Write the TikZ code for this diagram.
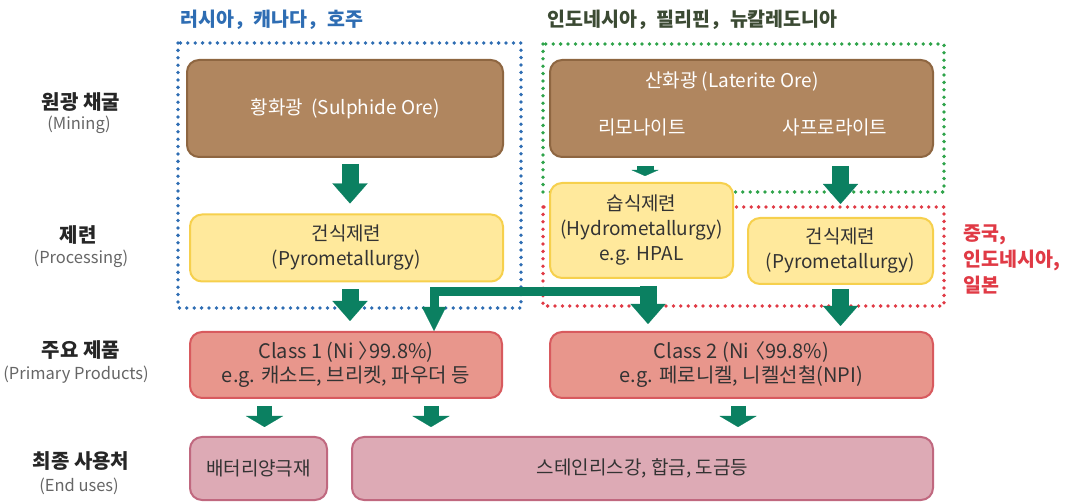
\documentclass[tikz,border=0pt]{standalone}
\usepackage{fontspec}
\setmainfont{Noto Sans CJK KR}
\usetikzlibrary{arrows.meta}

\definecolor{orebrown}{HTML}{B0865F}
\definecolor{oreline}{HTML}{8E6641}
\definecolor{procyellow}{HTML}{FFE99C}
\definecolor{procline}{HTML}{F6D04D}
\definecolor{prodsalmon}{HTML}{E8968C}
\definecolor{prodline}{HTML}{D85A5E}
\definecolor{usepink}{HTML}{DDAAB5}
\definecolor{useline}{HTML}{C0687F}
\definecolor{flowgreen}{HTML}{0B8061}
\definecolor{rublue}{HTML}{2E6DB3}
\definecolor{idgreen}{HTML}{2EA34A}
\definecolor{cnred}{HTML}{E03A45}
\definecolor{idtitle}{HTML}{3B4A33}

\newcommand\boxfont{\fontsize{19}{25}\selectfont}
\newcommand\prodfont{\fontsize{20}{24}\selectfont}
\newcommand\headfont{\bfseries\fontsize{19.5}{26}\selectfont}
\newcommand\namefont{\bfseries\fontsize{20}{24}\selectfont}
\newcommand\notefont{\fontsize{16.5}{20}\selectfont}

\tikzset{
  stage/.style={rounded corners=12pt, line width=2pt, align=center, inner sep=0pt, font=\boxfont, text=black!80},
  ore/.style={stage, fill=orebrown, draw=oreline, text=white},
  proc/.style={stage, fill=procyellow, draw=procline},
  prod/.style={stage, fill=prodsalmon, draw=prodline, font=\prodfont},
  enduse/.style={stage, fill=usepink, draw=useline},
  oretext/.style={font=\boxfont, text=white, inner sep=0pt},
  stagename/.style={font=\namefont, text=black!85},
  stagenote/.style={font=\notefont, text=black!60},
  region/.style={line width=3.8pt, dash pattern=on 0pt off 7.4pt, line cap=round},
  bigflow/.style={draw=flowgreen, line width=17pt, -{Triangle[width=35pt,length=20pt,line width=0.1pt,fill=flowgreen]}},
  smallflow/.style={draw=flowgreen, line width=15pt, -{Triangle[width=37pt,length=11pt,line width=0.1pt,fill=flowgreen]}},
  tinyflow/.style={draw=flowgreen, line width=17pt, -{Triangle[width=27pt,length=6pt,line width=0.1pt,fill=flowgreen]}},
  elbowflow/.style={draw=flowgreen, line width=9pt, line join=miter, -{Triangle[width=24pt,length=24pt,line width=0.1pt,fill=flowgreen]}}
}

\begin{document}
\begin{tikzpicture}[x=1pt,y=-1pt]
\useasboundingbox (0,0) rectangle (1066,502);

\draw[region, rublue] (178,43) rectangle (521,308);
\draw[region, idgreen] (543,44) rectangle (944,192);
\draw[region, cnred] (543,207) rectangle (944,306);

\node[font=\headfont, text=rublue, anchor=west] (rutitle) at (177,20) {러시아，캐나다，호주};
\node[font=\headfont, text=idtitle, anchor=west] (idtitle) at (544,20) {인도네시아，필리핀，뉴칼레도니아};
\node[font=\headfont, text=cnred, anchor=west, align=left] (cntitle) at (960,259) {중국,\\인도네시아,\\일본};

\node[stagename] (mining) at (81,102) {원광 채굴};
\node[stagenote] (miningen) at (79,125) {(Mining)};
\node[stagename] (proc) at (78,235) {제련};
\node[stagenote] (procen) at (81,259) {(Processing)};
\node[stagename] (prim) at (81,350) {주요 제품};
\node[stagenote] (primen) at (76,375) {(Primary Products)};
\node[stagename] (uses) at (81,461) {최종 사용처};
\node[stagenote] (usesen) at (79,486) {(End uses)};

\node[ore, minimum width=316pt, minimum height=97pt] (sul) at (345,108.5) {황화광~~(Sulphide Ore)};
\node[ore, minimum width=383pt, minimum height=97pt] (lat) at (741.5,108.5) {};
\node[oretext] (latname) at (732,82) {산화광 (Laterite Ore)};
\node[oretext] (limo) at (642,127) {리모나이트};
\node[oretext] (sapro) at (835,127) {사프로라이트};

\node[proc, minimum width=313pt, minimum height=67pt] (pyroL) at (346.5,248) {건식제련\\(Pyrometallurgy)};
\node[proc, minimum width=183pt, minimum height=95pt] (hydro) at (641.5,230.5) {습식제련\\(Hydrometallurgy)\\e.g. HPAL};
\node[proc, minimum width=185pt, minimum height=66pt] (pyroR) at (840.5,251) {건식제련\\(Pyrometallurgy)};

\node[prod, minimum width=312pt, minimum height=66pt] (cls1) at (346,365) {Class 1 (Ni 〉\kern-.42em99.8\%)\\e.g. 캐소드, 브리켓, 파우더 등};
\node[prod, minimum width=383pt, minimum height=66pt] (cls2) at (741.5,365) {Class 2 (Ni\kern-.2em〈99.8\%)\\e.g. 페로니켈, 니켈선철(NPI)};

\node[enduse, minimum width=137pt, minimum height=63pt] (end1) at (258.5,468.5) {배터리양극재};
\node[enduse, minimum width=581pt, minimum height=63pt] (end2) at (642.5,468.5) {스테인리스강, 합금, 도금등};

\draw[bigflow, shorten <=6pt, shorten >=10pt] ([xshift=5pt]sul.south) -- ([xshift=5pt]sul.south |- pyroL.north);
\draw[tinyflow, shorten <=8pt, shorten >=6pt] ([xshift=3.5pt]hydro.north |- lat.south) -- ([xshift=3.5pt]hydro.north);
\draw[bigflow, shorten <=8pt, shorten >=13pt] (pyroR.north |- lat.south) -- (pyroR.north);

\draw[elbowflow] ([xshift=15.5pt,yshift=-13pt]hydro.south) -| ([xshift=88pt]cls1.north);
\draw[bigflow, shorten <=7pt, shorten >=10pt] ([xshift=3.5pt]pyroL.south) -- ([xshift=3.5pt]pyroL.south |- cls1.north);
\draw[bigflow, shorten <=7pt, shorten >=7pt] ([xshift=6.5pt]hydro.south) -- ([xshift=6.5pt]hydro.south |- cls2.north);
\draw[bigflow, shorten <=4pt, shorten >=5pt] (pyroR.south) -- (pyroR.south |- cls2.north);

\draw[smallflow, shorten <=7pt, shorten >=9pt] ([xshift=6pt]end1.north |- cls1.south) -- ([xshift=6pt]end1.north);
\draw[smallflow, shorten <=7pt, shorten >=9pt] ([xshift=85pt]cls1.south) -- ([xshift=85pt]cls1.south |- end2.north);
\draw[smallflow, shorten <=7pt, shorten >=9pt] ([xshift=-3.5pt]cls2.south) -- ([xshift=-3.5pt]cls2.south |- end2.north);
\end{tikzpicture}
\end{document}
